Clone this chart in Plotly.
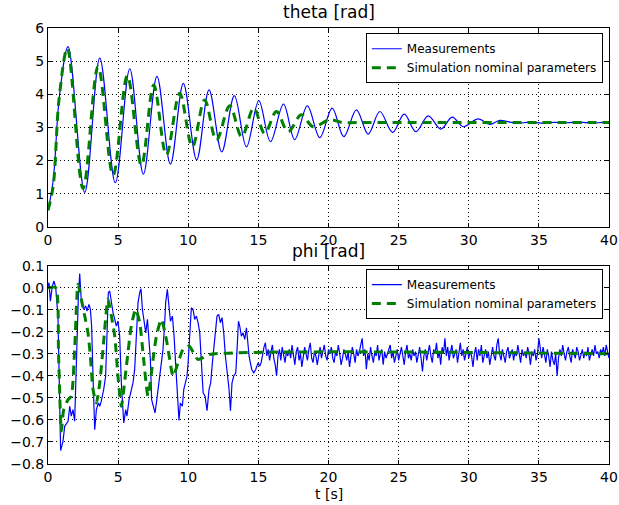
import plotly.graph_objects as go
from plotly.subplots import make_subplots

# ---------------- data ----------------
theta_meas_t = [0, 0.36, 0.83, 1.43, 2.62, 3.69, 4.80, 5.83, 6.80, 7.77, 8.73, 9.65, 10.60,
                11.48, 12.39, 13.29, 14.15, 15.03, 15.86, 16.79, 17.59, 18.49, 19.38, 20.26,
                21.09, 21.99, 22.83, 23.66, 24.57, 25.40, 26.23, 27.11, 28.01, 28.82, 29.61,
                30.67, 31.5, 32.22, 33.41, 34.3, 35.2, 36.1, 37.0, 37.9, 38.8, 39.6, 40.0]
theta_meas_v = [0.5, 1.36, 4.0, 5.44, 1.04, 5.09, 1.33, 4.77, 1.59, 4.54, 1.89, 4.33, 2.02,
                4.13, 2.26, 3.96, 2.41, 3.81, 2.57, 3.70, 2.63, 3.65, 2.69, 3.58,
                2.72, 3.53, 2.80, 3.48, 2.85, 3.40, 2.87, 3.35, 2.95, 3.31, 3.02,
                3.26, 3.09, 3.21, 3.12, 3.16, 3.13, 3.15, 3.14, 3.16, 3.13, 3.15, 3.14]

theta_sim_t = [0, 0.36, 0.80, 1.38, 2.50, 3.57, 4.64, 5.66, 6.66, 7.54, 8.44, 9.39, 10.29,
               11.17, 12.01, 12.96, 13.81, 14.67, 15.45, 16.29, 17.12, 18.07, 18.90, 20.1,
               21.0, 22.0, 40.0]
theta_sim_v = [0.5, 1.2, 3.9, 5.39, 1.16, 4.84, 1.56, 4.56, 1.86, 4.28, 2.17, 4.03, 2.42,
               3.83, 2.62, 3.65, 2.72, 3.58, 2.82, 3.48, 2.87, 3.38, 3.02, 3.23,
               3.145, 3.145, 3.145]

phi_meas_t_early = [0.0, 0.07, 0.17, 0.31, 0.43, 0.55, 0.71, 0.90, 1.07, 1.19, 1.43, 1.55, 1.66,
                    1.78, 1.90, 1.97, 2.07, 2.16, 2.26, 2.38, 2.54, 2.69, 2.78, 2.92, 3.02,
                    3.11, 3.21, 3.33, 3.45, 3.59, 3.69, 3.80, 3.97, 4.11, 4.21, 4.30, 4.40,
                    4.52, 4.64, 4.76, 4.87, 4.99, 5.11, 5.23, 5.40, 5.54, 5.63, 5.78, 5.94,
                    6.06, 6.18, 6.30, 6.42, 6.54, 6.63, 6.73, 6.85, 6.97, 7.09, 7.20, 7.30,
                    7.39, 7.54, 7.63, 7.73, 7.85, 8.01, 8.20, 8.32, 8.39, 8.51, 8.63, 8.73,
                    8.87, 8.99, 9.11, 9.23, 9.34, 9.44, 9.58, 9.68, 9.82, 9.91, 9.99, 10.10,
                    10.22, 10.34, 10.46, 10.58, 10.70, 10.82, 10.94, 11.06, 11.20, 11.34,
                    11.48, 11.60, 11.72, 11.84, 11.96, 12.05, 12.17, 12.29, 12.41, 12.53,
                    12.65, 12.77, 12.91, 13.01, 13.12, 13.24, 13.39, 13.48, 13.58, 13.67,
                    13.79, 13.91, 14.03, 14.15, 14.24, 14.34, 14.43, 14.53, 14.67, 14.81,
                    14.98, 15.10]
phi_meas_v_early = [0.0, 0.023, -0.061, 0.008, 0.030, 0.0, -0.129, -0.739, -0.697, -0.629,
                    -0.606, -0.538, -0.583, -0.553, -0.606, -0.447, -0.280, -0.053, 0.064,
                    -0.068, -0.098, -0.083, -0.106, -0.076, -0.098, -0.174, -0.402, -0.644,
                    -0.553, -0.523, -0.538, -0.515, -0.462, -0.402, -0.205, -0.023, -0.015,
                    -0.076, -0.114, -0.144, -0.174, -0.152, -0.220, -0.432, -0.614, -0.553,
                    -0.583, -0.508, -0.462, -0.432, -0.371, -0.205, -0.068, -0.023, -0.005,
                    -0.098, -0.159, -0.205, -0.144, -0.220, -0.326, -0.508, -0.553, -0.568,
                    -0.523, -0.462, -0.402, -0.280, -0.159, -0.068, -0.008, -0.098, -0.152,
                    -0.129, -0.220, -0.356, -0.492, -0.602, -0.523, -0.538, -0.462, -0.432,
                    -0.402, -0.341, -0.189, -0.091, -0.098, -0.144, -0.129, -0.159, -0.205,
                    -0.371, -0.477, -0.492, -0.558, -0.462, -0.432, -0.341, -0.250, -0.174,
                    -0.129, -0.121, -0.159, -0.136, -0.205, -0.311, -0.371, -0.462, -0.558,
                    -0.432, -0.402, -0.386, -0.280, -0.152, -0.174, -0.220, -0.205, -0.235,
                    -0.182, -0.265, -0.311, -0.341, -0.371, -0.386, -0.371, -0.341, -0.356]

# steady-state part, sampled every 0.1 s from 15.2 s to 40.0 s
phi_noise_start = 15.2
phi_noise_step = 0.1
phi_meas_v_noise = [
    -0.34, -0.30, -0.27, -0.25, -0.31, -0.28, -0.33, -0.29, -0.26, -0.32,
    -0.35, -0.40, -0.31, -0.28, -0.33, -0.27, -0.30, -0.34, -0.29, -0.31,
    -0.28, -0.32, -0.26, -0.30, -0.35, -0.29, -0.27, -0.33, -0.30, -0.36,
    -0.31, -0.27, -0.30, -0.33, -0.28, -0.25, -0.32, -0.34, -0.29, -0.31,
    -0.35, -0.30, -0.27, -0.32, -0.29, -0.26, -0.31, -0.33, -0.28, -0.30,
    -0.27, -0.32, -0.34, -0.29, -0.31, -0.26, -0.30, -0.35, -0.32, -0.28,
    -0.30, -0.33, -0.29, -0.36, -0.31, -0.27, -0.30, -0.34, -0.28, -0.31,
    -0.29, -0.26, -0.23, -0.31, -0.28, -0.37, -0.30, -0.33, -0.27, -0.31,
    -0.34, -0.29, -0.31, -0.26, -0.33, -0.30, -0.28, -0.35, -0.29, -0.32,
    -0.30, -0.27, -0.26, -0.32, -0.29, -0.34, -0.31, -0.28, -0.33, -0.30,
    -0.27, -0.31, -0.35, -0.29, -0.26, -0.32, -0.30, -0.33, -0.28, -0.31,
    -0.29, -0.34, -0.30, -0.27, -0.32, -0.38, -0.31, -0.28, -0.33, -0.29,
    -0.26, -0.31, -0.34, -0.28, -0.30, -0.25, -0.32, -0.29, -0.35, -0.27,
    -0.30, -0.23, -0.31, -0.27, -0.33, -0.29, -0.26, -0.32, -0.30, -0.28,
    -0.34, -0.29, -0.25, -0.31, -0.28, -0.33, -0.30, -0.27, -0.32, -0.29,
    -0.31, -0.36, -0.30, -0.27, -0.33, -0.28, -0.31, -0.26, -0.34, -0.30,
    -0.28, -0.32, -0.29, -0.35, -0.30, -0.27, -0.31, -0.33, -0.26, -0.23,
    -0.30, -0.33, -0.28, -0.31, -0.34, -0.29, -0.27, -0.32, -0.30, -0.28,
    -0.33, -0.29, -0.31, -0.26, -0.30, -0.34, -0.28, -0.31, -0.29, -0.32,
    -0.27, -0.30, -0.35, -0.29, -0.31, -0.28, -0.33, -0.30, -0.23, -0.29,
    -0.32, -0.27, -0.30, -0.34, -0.28, -0.31, -0.36, -0.29, -0.33, -0.35,
    -0.30, -0.40, -0.32, -0.28, -0.31, -0.26, -0.30, -0.33, -0.29, -0.27,
    -0.31, -0.34, -0.28, -0.30, -0.32, -0.27, -0.29, -0.33, -0.30, -0.28,
    -0.32, -0.29, -0.31, -0.27, -0.33, -0.30, -0.28, -0.31, -0.26, -0.30,
    -0.29, -0.32, -0.28, -0.30, -0.27, -0.31, -0.26, -0.29, -0.32,
]

phi_sim_t = [0.0, 0.55, 0.75, 0.95, 1.12, 1.43, 1.66, 1.90, 2.14, 2.38, 2.62, 2.85, 3.02,
             3.21, 3.45, 3.69, 3.92, 4.28, 4.52, 4.76, 4.99, 5.23, 5.59, 5.94, 6.25, 6.54,
             6.82, 7.13, 7.49, 7.73, 8.08, 8.44, 8.68, 8.92, 9.27, 9.63, 10.06, 10.70,
             11.53, 40.0]
phi_sim_v = [0.0, 0.0, -0.30, -0.65, -0.553, -0.508, -0.492, -0.280, 0.015, -0.053, -0.129,
             -0.205, -0.311, -0.462, -0.523, -0.432, -0.280, -0.053, -0.129, -0.220, -0.402,
             -0.538, -0.356, -0.174, -0.098, -0.159, -0.326, -0.492, -0.326, -0.220, -0.144,
             -0.235, -0.326, -0.402, -0.341, -0.280, -0.265, -0.326, -0.303, -0.30]

x_ticks = [0, 5, 10, 15, 20, 25, 30, 35, 40]
theta_ticks = [0, 1, 2, 3, 4, 5, 6]
phi_ticks = [0.1, 0.0, -0.1, -0.2, -0.3, -0.4, -0.5, -0.6, -0.7, -0.8]

# ---------------- figure ----------------
phi_meas_t = phi_meas_t_early + [round(phi_noise_start + i * phi_noise_step, 2)
                                 for i in range(len(phi_meas_v_noise))]
phi_meas_v = phi_meas_v_early + phi_meas_v_noise

BLUE = "#0000ff"
GREEN = "#008000"
FONT = "DejaVu Sans"

fig = make_subplots(rows=2, cols=1)

fig.add_trace(go.Scatter(x=theta_meas_t, y=theta_meas_v, mode="lines", name="Measurements",
                         line=dict(color=BLUE, width=1.2, shape="spline", smoothing=1.0),
                         legend="legend"), row=1, col=1)
fig.add_trace(go.Scatter(x=theta_sim_t, y=theta_sim_v, mode="lines",
                         name="Simulation nominal parameters",
                         line=dict(color=GREEN, width=3, dash="9px,6px", shape="spline",
                                   smoothing=1.0),
                         legend="legend"), row=1, col=1)
fig.add_trace(go.Scatter(x=phi_meas_t, y=phi_meas_v, mode="lines", name="Measurements",
                         line=dict(color=BLUE, width=1.2), legend="legend2"), row=2, col=1)
fig.add_trace(go.Scatter(x=phi_sim_t, y=phi_sim_v, mode="lines",
                         name="Simulation nominal parameters",
                         line=dict(color=GREEN, width=3, dash="9px,6px", shape="spline",
                                   smoothing=0.6),
                         legend="legend2"), row=2, col=1)

axis_common = dict(showline=True, linecolor="black", linewidth=1, mirror="ticks",
                   ticks="inside", ticklen=4, tickcolor="black", automargin=False,
                   showgrid=True, gridcolor="black", griddash="1px,3px", gridwidth=1,
                   zeroline=False, tickfont=dict(family=FONT, size=14, color="black"))

fig.update_xaxes(**axis_common, range=[0, 40], tickvals=x_ticks,
                 ticktext=[str(v) for v in x_ticks])
fig.update_yaxes(**axis_common)
fig.update_yaxes(range=[0, 6], tickvals=theta_ticks, ticktext=[str(v) for v in theta_ticks],
                 row=1, col=1)
fig.update_yaxes(range=[-0.8, 0.1], tickvals=phi_ticks,
                 ticktext=[("\u2212%.1f" % -v) if v < 0 else "%.1f" % v for v in phi_ticks],
                 row=2, col=1)

fig.update_layout(
    width=619, height=505,
    margin=dict(l=48, r=10, t=28, b=41, autoexpand=False),
    paper_bgcolor="white", plot_bgcolor="white",
    font=dict(family=FONT, color="black"),
    xaxis=dict(domain=[0, 1], anchor="y"),
    yaxis=dict(domain=[0.544, 1.0]),
    xaxis2=dict(domain=[0, 1], anchor="y2"),
    yaxis2=dict(domain=[0.0, 0.455]),
    showlegend=True,
    legend=dict(x=0.989, y=0.988, xanchor="right", yanchor="top",
                bordercolor="black", borderwidth=1, bgcolor="white",
                font=dict(family=FONT, size=12, color="black"),
                tracegroupgap=0, itemwidth=30),
    legend2=dict(x=0.989, y=0.447, xanchor="right", yanchor="top",
                 bordercolor="black", borderwidth=1, bgcolor="white",
                 font=dict(family=FONT, size=12, color="black"),
                 tracegroupgap=0, itemwidth=30),
    annotations=[
        dict(text="theta [rad]", xref="paper", yref="paper", x=0.5, y=1.0, yshift=4,
             xanchor="center", yanchor="bottom", showarrow=False,
             font=dict(family=FONT, size=17, color="black")),
        dict(text="phi [rad]", xref="paper", yref="paper", x=0.5, y=0.455, yshift=3,
             xanchor="center", yanchor="bottom", showarrow=False,
             font=dict(family=FONT, size=17, color="black")),
        dict(text="t [s]", xref="paper", yref="paper", x=0.5, y=0.0, yshift=-20,
             xanchor="center", yanchor="top", showarrow=False,
             font=dict(family=FONT, size=14, color="black")),
    ],
)

fig.write_html("out.html",
               config={"displayModeBar": False},
               post_script="document.body.style.margin='0px';"
                           "document.body.style.padding='0px';")
